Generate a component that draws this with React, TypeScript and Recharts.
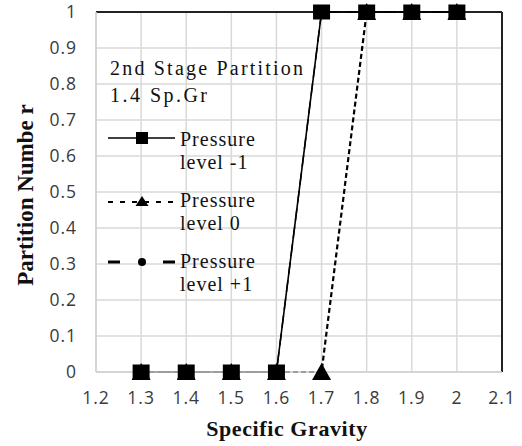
import React from 'react';
import { LineChart, Line, XAxis, YAxis, CartesianGrid, ReferenceLine, Label } from 'recharts';

const specificGravity = [1.3, 1.4, 1.5, 1.6, 1.7, 1.8, 1.9, 2.0];
const levelMinus1 = [0, 0, 0, 0, 1, 1, 1, 1];
const level0 = [0, 0, 0, 0, 0, 1, 1, 1];
const levelPlus1 = [0, 0, 0, 0, 1, 1, 1, 1];
const xTicks = [1.2, 1.3, 1.4, 1.5, 1.6, 1.7, 1.8, 1.9, 2.0, 2.1];
const yTicks = [0, 0.1, 0.2, 0.3, 0.4, 0.5, 0.6, 0.7, 0.8, 0.9, 1];
const seriesNames = ['Pressure level -1', 'Pressure level 0', 'Pressure level +1'];
const legendTitle = ['2nd Stage Partition', '1.4 Sp.Gr'];

const data = specificGravity.map((sg, i) => ({
  sg,
  m1: levelMinus1[i],
  l0: level0[i],
  p1: levelPlus1[i],
}));

const serif = '"Liberation Serif", "Times New Roman", serif';
const tickFont = '"Open Sans", "Noto Sans", sans-serif';

const fmt = (v: number) => String(Math.round(v * 10) / 10);

const SquareDot = (props: any) => {
  const { cx, cy, index } = props;
  if (cx == null || cy == null) return <g key={`s${index}`} />;
  return <rect key={`s${index}`} x={cx - 8.5} y={cy - 7.5} width={17} height={15} fill="#000" />;
};
const TriDot = (props: any) => {
  const { cx, cy, index } = props;
  if (cx == null || cy == null) return <g key={`t${index}`} />;
  return (
    <polygon
      key={`t${index}`}
      points={`${cx},${cy - 9} ${cx - 9.5},${cy + 8} ${cx + 9.5},${cy + 8}`}
      fill="#000"
    />
  );
};
const CircleDot = (props: any) => {
  const { cx, cy, index } = props;
  if (cx == null || cy == null) return <g key={`c${index}`} />;
  return <circle key={`c${index}`} cx={cx} cy={cy} r={4} fill="#000" />;
};

const legendText = { fontFamily: serif, fontSize: 20, letterSpacing: 1, fill: '#111' } as const;

const LegendOverlay = () => (
  <svg width={522} height={446} style={{ position: 'absolute', left: 0, top: 0, pointerEvents: 'none' }}>
    <text x={110} y={75} {...legendText} letterSpacing={0} textLength={193} lengthAdjust="spacing">{legendTitle[0]}</text>
    <text x={110} y={102} {...legendText} letterSpacing={0} textLength={97} lengthAdjust="spacing">{legendTitle[1]}</text>

    <line x1={108} x2={175} y1={138} y2={138} stroke="#000" strokeWidth={1.5} />
    <rect x={136} y={132} width={12} height={12} fill="#000" />
    <text x={180} y={146} {...legendText}>Pressure</text>
    <text x={180} y={169} {...legendText}>level -1</text>

    <line x1={108} x2={175} y1={202} y2={202} stroke="#000" strokeWidth={2} strokeDasharray="5 7" />
    <polygon points="142,196 135.5,206 148.5,206" fill="#000" />
    <text x={180} y={207} {...legendText}>Pressure</text>
    <text x={180} y={230} {...legendText}>level 0</text>

    <line x1={108} x2={120} y1={262} y2={262} stroke="#000" strokeWidth={3} />
    <line x1={163} x2={175} y1={262} y2={262} stroke="#000" strokeWidth={3} />
    <circle cx={142} cy={262} r={4} fill="#000" />
    <text x={180} y={268} {...legendText}>Pressure</text>
    <text x={180} y={291} {...legendText}>level +1</text>
  </svg>
);

const tickStyle = { fontFamily: tickFont, fontSize: 17.5, fill: '#3a3a3a', letterSpacing: 1 };

export default function App() {
  return (
    <div style={{ position: 'absolute', left: 0, top: 0, width: 522, height: 446, background: '#fff' }}>
      <LineChart width={522} height={446} data={data} margin={{ top: 12, right: 20, left: 0, bottom: 0 }}>
        <CartesianGrid stroke="#d9d9d9" strokeWidth={1.5} horizontalValues={yTicks} verticalValues={xTicks} />
        <XAxis
          dataKey="sg"
          type="number"
          domain={[1.2, 2.1]}
          ticks={xTicks}
          tickFormatter={fmt}
          height={74}
          tickLine={false}
          tickSize={6}
          tickMargin={14}
          axisLine={{ stroke: '#d0d0d0', strokeWidth: 1.5 }}
          tick={tickStyle}
          interval={0}
        >
          <Label
            content={() => (
              <text x={287} y={436} textAnchor="middle" fontFamily={serif} fontWeight="bold" fontSize={22} letterSpacing={0.6} fill="#111">
                Specific Gravity
              </text>
            )}
          />
        </XAxis>
        <YAxis
          type="number"
          domain={[0, 1]}
          ticks={yTicks}
          tickFormatter={fmt}
          width={96}
          tickLine={false}
          tickSize={6}
          tickMargin={13}
          axisLine={{ stroke: '#d0d0d0', strokeWidth: 1.5 }}
          tick={tickStyle}
          interval={0}
        >
          <Label
            content={() => (
              <text
                x={25}
                y={195}
                transform="rotate(-90 25 195)"
                textAnchor="middle"
                dominantBaseline="central"
                fontFamily={serif}
                fontWeight="bold"
                fontSize={23}
                fill="#111"
              >
                Partition Numbe r
              </text>
            )}
          />
        </YAxis>
        <ReferenceLine y={1} stroke="#222" strokeWidth={2} />
        <ReferenceLine x={2.1} stroke="#222" strokeWidth={2} />
        <Line
          name={seriesNames[2]}
          dataKey="p1"
          stroke="#000"
          strokeWidth={1.5}
          strokeDasharray="12 6"
          dot={CircleDot}
          activeDot={false}
          isAnimationActive={false}
        />
        <Line
          name={seriesNames[1]}
          dataKey="l0"
          stroke="#000"
          strokeWidth={2.2}
          strokeDasharray="5 3"
          dot={TriDot}
          activeDot={false}
          isAnimationActive={false}
        />
        <Line
          name={seriesNames[0]}
          dataKey="m1"
          stroke="#000"
          strokeWidth={1.6}
          dot={SquareDot}
          activeDot={false}
          isAnimationActive={false}
        />
      </LineChart>
      <LegendOverlay />
    </div>
  );
}
